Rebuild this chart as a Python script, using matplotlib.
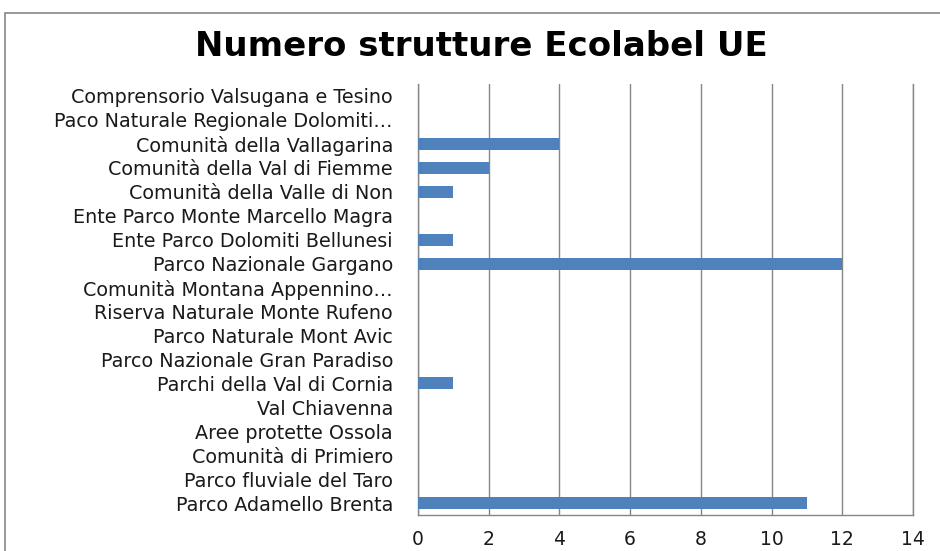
import matplotlib
matplotlib.use("Agg")
import matplotlib.pyplot as plt
from matplotlib.patches import Rectangle

categories = [
    "Comprensorio Valsugana e Tesino",
    "Paco Naturale Regionale Dolomiti…",
    "Comunità della Vallagarina",
    "Comunità della Val di Fiemme",
    "Comunità della Valle di Non",
    "Ente Parco Monte Marcello Magra",
    "Ente Parco Dolomiti Bellunesi",
    "Parco Nazionale Gargano",
    "Comunità Montana Appennino…",
    "Riserva Naturale Monte Rufeno",
    "Parco Naturale Mont Avic",
    "Parco Nazionale Gran Paradiso",
    "Parchi della Val di Cornia",
    "Val Chiavenna",
    "Aree protette Ossola",
    "Comunità di Primiero",
    "Parco fluviale del Taro",
    "Parco Adamello Brenta",
]
values = [0, 0, 4, 2, 1, 0, 1, 12, 0, 0, 0, 0, 1, 0, 0, 0, 0, 11]
x_ticks = [0, 2, 4, 6, 8, 10, 12, 14]
title = "Numero strutture Ecolabel UE"

plt.rcParams['font.family'] = ['DejaVu Sans']

fig = plt.figure(figsize=(9.4, 5.51), dpi=100)
W, H = 940, 551
ax = fig.add_axes([418 / W, 1 - 515 / H, (913 - 418) / W, (515 - 84) / H])

# outer chart frame
fig.patches.append(Rectangle((5 / W, -0.1), 1.0, 1 - 13 / H + 0.1,
                             transform=fig.transFigure, fill=False,
                             edgecolor='#868686', linewidth=1.2))

n = len(categories)
ypos = list(range(n))[::-1]
ax.barh(ypos, values, height=0.5, color='#4F81BD', zorder=3)

ax.set_xlim(0, 14)
ax.set_ylim(-0.5, n - 0.5)
ax.set_xticks(x_ticks)
ax.set_xticklabels([str(t) for t in x_ticks], fontsize=13.5, color='#1a1a1a')
ax.set_yticks(ypos)
ax.set_yticklabels(categories, fontsize=13.8, color='#1a1a1a')
ax.tick_params(axis='y', length=0, pad=18)
ax.tick_params(axis='x', length=0, pad=11)

ax.grid(axis='x', color='#868686', linewidth=1.0, zorder=0)
ax.spines['top'].set_visible(False)
for s in ['left', 'bottom', 'right']:
    ax.spines[s].set_color('#868686')
    ax.spines[s].set_linewidth(1.0)

fig.text(481 / W, 1 - 47 / H, title, ha='center', va='center',
         fontsize=24.5, fontweight='bold', color='black')

fig.savefig("out.png", dpi=100)
